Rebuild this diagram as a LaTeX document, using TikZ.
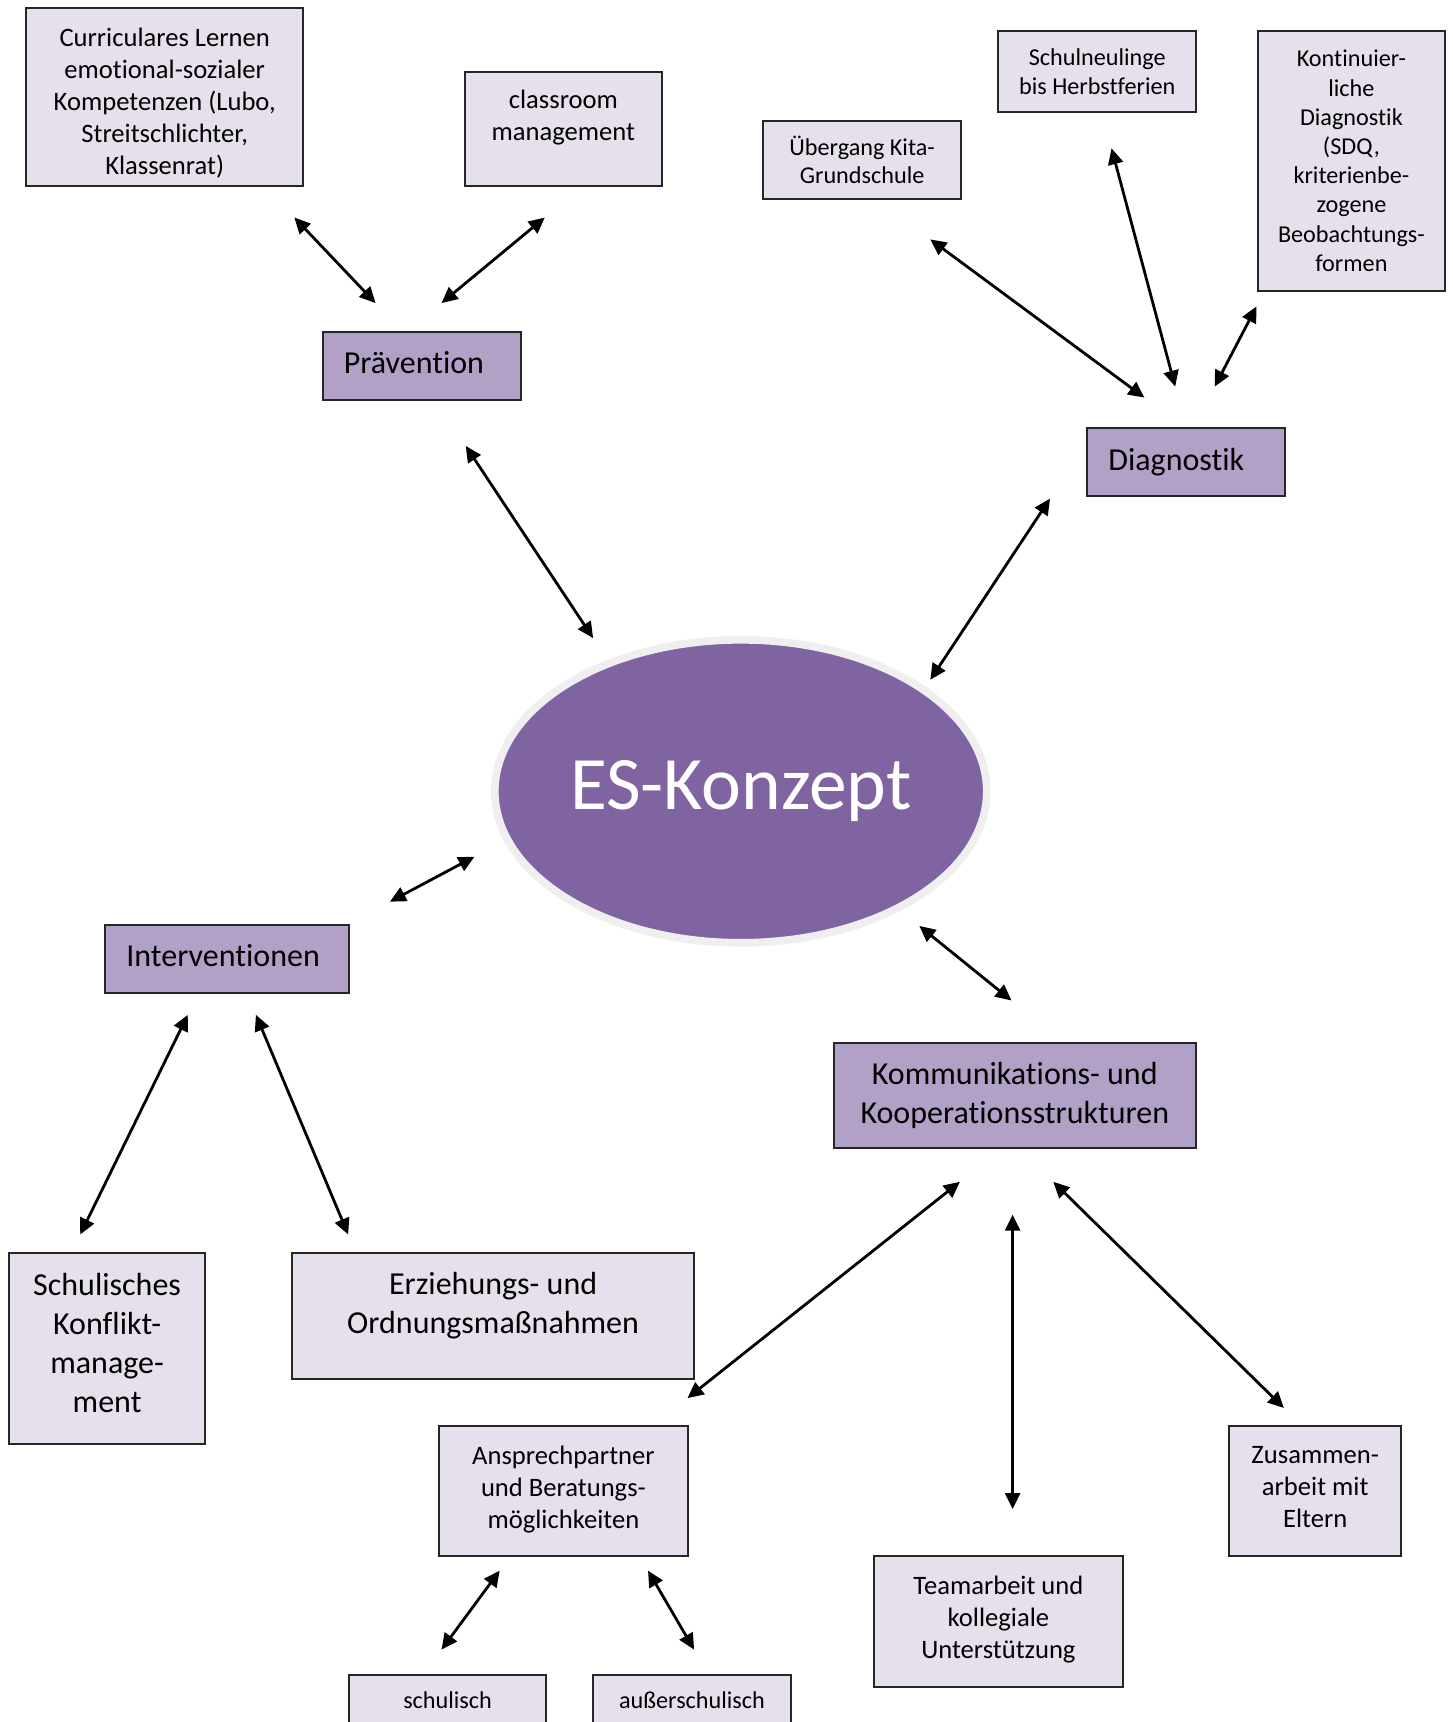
\documentclass[tikz,border=0pt]{standalone}
\usepackage{fontspec}
\setmainfont{Carlito}[Ligatures=NoCommon]
\usetikzlibrary{arrows.meta,shapes.geometric}
\definecolor{esviolett}{HTML}{8064A2}
\definecolor{hauptlila}{HTML}{B2A1C7}
\definecolor{unterlila}{HTML}{E5E0EC}
\definecolor{randgrau}{HTML}{EFEFEF}
\tikzset{
  hauptbox/.style={draw=black!85,line width=2pt,fill=hauptlila,align=center,inner sep=0pt,font=\fontsize{32}{39}\selectfont},
  linksbox/.style={hauptbox,align=left,inner xsep=21pt},
  unterbox/.style={draw=black!85,line width=2pt,fill=unterlila,align=center,inner sep=0pt,font=\fontsize{26.6}{32}\selectfont},
  kleinbox/.style={unterbox,font=\fontsize{24.2}{28.7}\selectfont},
  pfeil/.style={{Triangle[length=16pt,width=15pt]}-{Triangle[length=16pt,width=15pt]},line width=2.8pt}
}

\begin{document}
\begin{tikzpicture}[x=1pt,y=-1pt]
\useasboundingbox (0,0) rectangle (1453,1722);

\node[ellipse,draw=randgrau,line width=7.7pt,fill=esviolett,text=white,inner sep=0pt,
  minimum width=492pt,minimum height=303pt,font=\fontsize{75.5}{80}\selectfont] (es) at (740.8,791.3) {ES-Konzept};

\node[linksbox,minimum width=197.7pt,minimum height=68.1pt,text width=155.7pt,text depth=6pt] (prae) at (421.7,365.7) {Prävention};
\node[linksbox,minimum width=197.7pt,minimum height=68.1pt,text width=155.7pt,text depth=6pt] (diag) at (1186.2,462.4) {Diagnostik};
\node[linksbox,minimum width=243.8pt,minimum height=68.1pt,text width=201.8pt,text depth=6pt] (int) at (227.3,958.8) {Interventionen};
\node[hauptbox,minimum width=362.4pt,minimum height=104.3pt] (komm) at (1014.8,1095.6) {Kommunikations- und\\Kooperationsstrukturen};

\node[unterbox,minimum width=276.7pt,minimum height=177.9pt,text height=156pt,text depth=0pt] (curr) at (164.7,96.7) {Curriculares Lernen\\emotional-sozialer\\Kompetenzen (Lubo,\\Streitschlichter,\\Klassenrat)};
\node[unterbox,minimum width=197.7pt,minimum height=113.1pt,text depth=27pt] (class) at (563.4,129) {classroom\\management};

\node[kleinbox,minimum width=197.7pt,minimum height=78pt] (ueber) at (862.1,159.8) {Übergang Kita-\\Grundschule};
\node[kleinbox,minimum width=197.7pt,minimum height=81.3pt] (neu) at (1097.2,71.4) {Schulneulinge\\bis Herbstferien};
\node[kleinbox,minimum width=187.8pt,minimum height=260.3pt,font=\fontsize{24.2}{29.2}\selectfont] (kont) at (1351.4,160.9) {Kontinuier-\\liche\\Diagnostik\\(SDQ,\\kriterienbe-\\zogene\\Beobachtungs-\\formen};

\node[hauptbox,fill=unterlila,minimum width=196.6pt,minimum height=191.1pt,text depth=11pt] (konf) at (107.1,1348.7) {Schulisches\\Konflikt-\\manage-\\ment};
\node[hauptbox,fill=unterlila,minimum width=402pt,minimum height=126.3pt,text depth=27pt] (erz) at (493.1,1316.3) {Erziehungs- und\\Ordnungsmaßnahmen};

\node[unterbox,minimum width=248.2pt,minimum height=130.7pt,text depth=8pt] (ansp) at (563.4,1491) {Ansprechpartner\\und Beratungs-\\möglichkeiten};
\node[unterbox,minimum width=248.2pt,minimum height=130.7pt,text depth=8pt] (team) at (998.4,1621.6) {Teamarbeit und\\kollegiale\\Unterstützung};
\node[unterbox,minimum width=172.4pt,minimum height=130.7pt,text depth=8pt] (eltern) at (1315.2,1491) {Zusammen-\\arbeit mit\\Eltern};

\node[kleinbox,minimum width=196.6pt,minimum height=51pt] (schuli) at (447.6,1700) {schulisch};
\node[kleinbox,minimum width=197.7pt,minimum height=51pt] (ausser) at (692,1700) {außerschulisch};

\coordinate (curr-a) at (294.3,217.5);
\coordinate (class-a) at (544.8,217.5);
\coordinate (prae-a1) at (375.6,303.1);
\coordinate (prae-a2) at (441.5,303.1);
\coordinate (prae-a3) at (465.7,445.9);
\coordinate (ueber-a) at (930.3,239.4);
\coordinate (neu-a) at (1111.5,148.3);
\coordinate (kont-a) at (1256.5,306.4);
\coordinate (diag-a1) at (1144.4,397.6);
\coordinate (diag-a2) at (1175.2,386.6);
\coordinate (diag-a3) at (1214.7,386.6);
\coordinate (diag-a4) at (1050,498.6);
\coordinate (es-a1) at (593.1,638.1);
\coordinate (es-a2) at (930.3,679.8);
\coordinate (es-a3) at (474.5,856.7);
\coordinate (es-a4) at (919.3,925.9);
\coordinate (int-a1) at (389.9,901.7);
\coordinate (int-a2) at (187.8,1014.8);
\coordinate (int-a3) at (255.9,1014.8);
\coordinate (konf-a) at (80.2,1234.5);
\coordinate (erz-a) at (348.2,1234.5);
\coordinate (komm-a1) at (1011.5,1000.5);
\coordinate (komm-a2) at (959.9,1181.8);
\coordinate (komm-a3) at (1012.6,1214.7);
\coordinate (komm-a4) at (1053.3,1181.8);
\coordinate (ansp-a1) at (687.5,1398.1);
\coordinate (team-a) at (1012.6,1509);
\coordinate (eltern-a) at (1283.9,1408);
\coordinate (ansp-a2) at (499.7,1570.6);
\coordinate (ansp-a3) at (648,1570.6);
\coordinate (schuli-a) at (441.5,1649.6);
\coordinate (ausser-a) at (694.1,1649.6);

\path[pfeil] (curr-a) edge (prae-a1);
\path[pfeil] (class-a) edge (prae-a2);
\path[pfeil] (prae-a3) edge (es-a1);

\path[pfeil] (ueber-a) edge (diag-a1);
\path[pfeil] (neu-a) edge (diag-a2);
\path[pfeil] (kont-a) edge (diag-a3);
\path[pfeil] (diag-a4) edge (es-a2);

\path[pfeil] (es-a3) edge (int-a1);
\path[pfeil] (int-a2) edge (konf-a);
\path[pfeil] (int-a3) edge (erz-a);

\path[pfeil] (es-a4) edge (komm-a1);
\path[pfeil] (komm-a2) edge (ansp-a1);
\path[pfeil] (komm-a3) edge (team-a);
\path[pfeil] (komm-a4) edge (eltern-a);

\path[pfeil] (ansp-a2) edge (schuli-a);
\path[pfeil] (ansp-a3) edge (ausser-a);
\end{tikzpicture}
\end{document}
